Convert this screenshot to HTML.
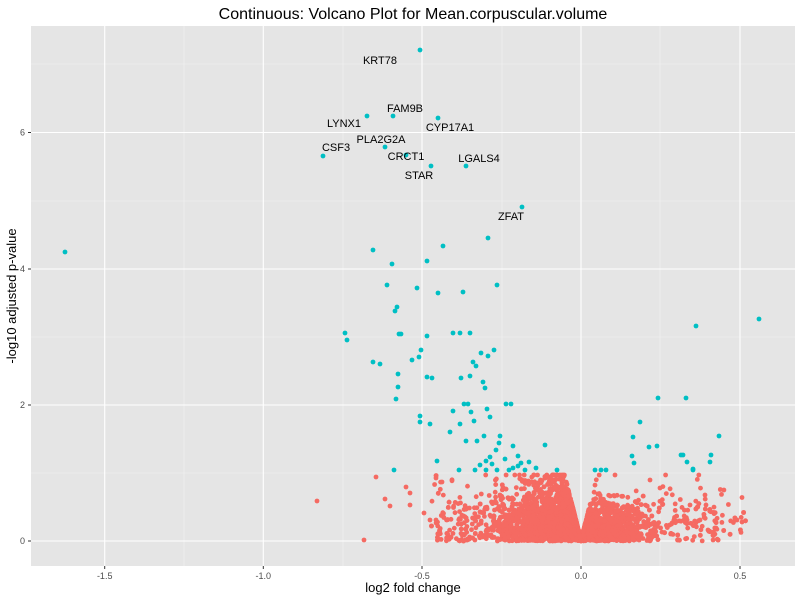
<!DOCTYPE html>
<html><head><meta charset="utf-8"><style>
html,body{margin:0;padding:0;background:#fff}
svg{display:block;font-family:"Liberation Sans",Arial,sans-serif}
</style></head><body>
<svg id="s" width="800" height="600" xmlns="http://www.w3.org/2000/svg">
<rect x="0" y="0" width="800" height="600" fill="#fff"/>
<rect x="31" y="26" width="764" height="540" fill="#e5e5e5"/>
<g stroke="#f2f2f2" stroke-width="0.6">
<line x1="184" y1="26" x2="184" y2="566"/><line x1="343" y1="26" x2="343" y2="566"/>
<line x1="502" y1="26" x2="502" y2="566"/><line x1="660" y1="26" x2="660" y2="566"/>
<line x1="31" y1="473" x2="795" y2="473"/><line x1="31" y1="337" x2="795" y2="337"/>
<line x1="31" y1="201" x2="795" y2="201"/><line x1="31" y1="64" x2="795" y2="64"/>
</g>
<g stroke="#fff" stroke-width="1.1">
<line x1="104.7" y1="26" x2="104.7" y2="566"/><line x1="263.3" y1="26" x2="263.3" y2="566"/>
<line x1="422" y1="26" x2="422" y2="566"/><line x1="581" y1="26" x2="581" y2="566"/>
<line x1="740" y1="26" x2="740" y2="566"/>
<line x1="31" y1="541" x2="795" y2="541"/><line x1="31" y1="405" x2="795" y2="405"/>
<line x1="31" y1="269" x2="795" y2="269"/><line x1="31" y1="132.5" x2="795" y2="132.5"/>
</g>
<g stroke="#333" stroke-width="1">
<line x1="104.7" y1="566" x2="104.7" y2="569"/><line x1="263.3" y1="566" x2="263.3" y2="569"/>
<line x1="422" y1="566" x2="422" y2="569"/><line x1="581" y1="566" x2="581" y2="569"/>
<line x1="740" y1="566" x2="740" y2="569"/>
<line x1="28" y1="541" x2="31" y2="541"/><line x1="28" y1="405" x2="31" y2="405"/>
<line x1="28" y1="269" x2="31" y2="269"/><line x1="28" y1="132.5" x2="31" y2="132.5"/>
</g>
<g font-size="9" fill="#4d4d4d" text-anchor="middle">
<text x="104.7" y="579">-1.5</text><text x="263.3" y="579">-1.0</text>
<text x="422" y="579">-0.5</text><text x="581" y="579">0.0</text><text x="740" y="579">0.5</text>
</g>
<g font-size="9" fill="#4d4d4d" text-anchor="end">
<text x="25" y="544">0</text><text x="25" y="408">2</text><text x="25" y="272">4</text><text x="25" y="135.5">6</text>
</g>
<text x="413" y="19" font-size="16" text-anchor="middle" fill="#000">Continuous: Volcano Plot for Mean.corpuscular.volume</text>
<text x="413" y="592" font-size="13" text-anchor="middle" fill="#000">log2 fold change</text>
<text x="16" y="296" font-size="13" text-anchor="middle" fill="#000" transform="rotate(-90 16 296)">-log10 adjusted p-value</text>
<g id="red" fill="#F56A62"></g>
<g id="teal" fill="#00BFC4"></g>
<g font-size="11" fill="#000" text-anchor="middle">
<text x="380" y="64">KRT78</text><text x="405" y="112">FAM9B</text>
<text x="344" y="127">LYNX1</text><text x="450" y="131">CYP17A1</text>
<text x="381" y="143">PLA2G2A</text><text x="336" y="151">CSF3</text>
<text x="406" y="160">CRCT1</text><text x="479" y="162">LGALS4</text>
<text x="419" y="179">STAR</text><text x="511" y="220">ZFAT</text>
</g>
</svg>
<script>
var NS="http://www.w3.org/2000/svg";
function dot(g,x,y){var c=document.createElementNS(NS,"circle");c.setAttribute("cx",x);c.setAttribute("cy",y);c.setAttribute("r","2.4");g.appendChild(c);}
var seed=12345;function rnd(){seed=(seed*1103515245+12345)%2147483648;return seed/2147483648;}
function gauss(){return Math.sqrt(-2*Math.log(rnd()+1e-9))*Math.cos(2*Math.PI*rnd());}
var red=document.getElementById("red");
for(var i=0;i<3500;i++){
 var neg=rnd()<0.6, dx, h;
 if(rnd()<0.85){
  dx=Math.abs(gauss())*(neg?42:32);
  h=Math.abs(gauss())*(neg?28:18);
 } else {
  dx=rnd()*(neg?150:165);
  h=Math.abs(gauss())*25;
 }
 if(dx>(neg?160:170))continue;
 h=Math.min(h, dx*4, 66);
 var x=neg?581-dx:581+dx;
 var y=541-h;
 dot(red,x.toFixed(1),y.toFixed(1));
}
[[317,501],[364,540],[376,477],[385,499],[390,506],[424,513],[410,505],[430,520],[700,520],[708,530],[737,520],[742,522],[716,528],[690,505],[660,488],[650,480],[705,495],[436,478],[442,482],[406,487],[410,493]].forEach(function(p){dot(red,p[0],p[1]);});
var teal=document.getElementById("teal");
[[420,50],[367,116],[393,116],[438,118],[385,147],[406,155],[323,156],[431,166],[466,166],[522,207],[65,252],[373,250],[443,246],[488,238],[427,261],[392,264],[387,285],[417,288],[438,293],[463,292],[497,285],[397,307],[395,311],[399,334],[401,334],[759,319],[696,326],[345,333],[347,340],[453,333],[460,333],[470,333],[427,336],[421,350],[373,362],[380,364],[412,360],[419,357],[481,353],[488,356],[494,350],[473,362],[476,366],[470,376],[398,374],[427,377],[432,378],[461,378],[483,382],[485,388],[398,387],[396,399],[506,404],[511,404],[464,404],[468,404],[453,411],[471,412],[487,409],[490,417],[640,422],[658,398],[686,398],[719,436],[420,422],[430,424],[460,424],[474,421],[420,416],[450,432],[500,436],[484,436],[466,441],[477,441],[499,443],[496,450],[513,446],[518,456],[545,445],[633,437],[649,447],[657,446],[681,455],[687,462],[711,455],[710,462],[693,469],[683,455],[632,456],[634,463],[693,470],[394,470],[437,461],[486,461],[490,457],[505,459],[521,463],[529,462],[557,470],[595,470],[601,470],[606,470],[459,470],[475,470],[486,470],[497,470],[509,470],[525,470],[513,468],[518,466],[480,465],[492,464],[536,468]].forEach(function(p){dot(teal,p[0],p[1]);});
</script>
</body></html>
